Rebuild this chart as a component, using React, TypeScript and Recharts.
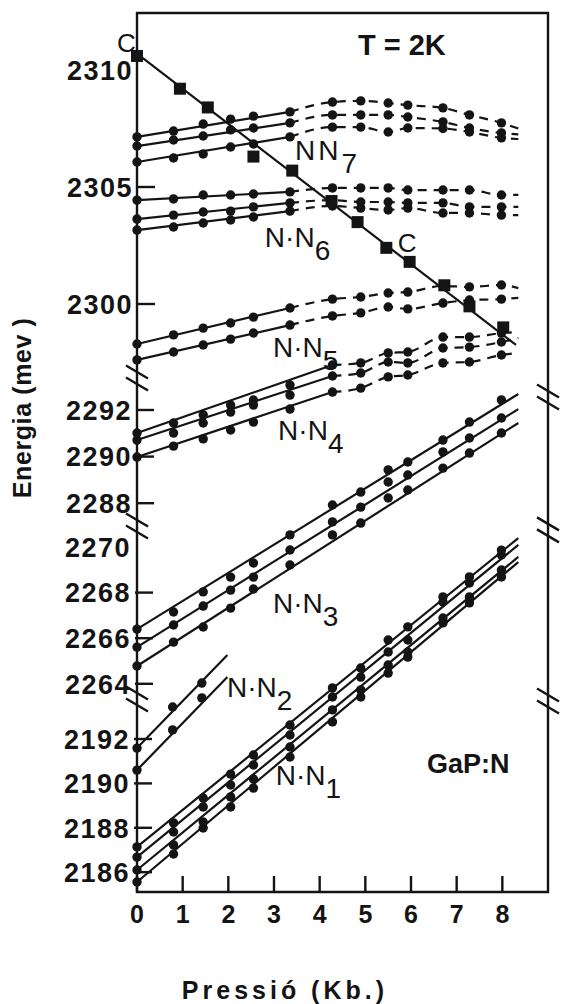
import {
  ComposedChart,
  Line,
  Scatter,
  XAxis,
  YAxis,
  ReferenceArea,
  ReferenceLine,
  ReferenceDot,
} from "recharts";

const FONT = "'Liberation Sans', Arial, Helvetica, sans-serif";
const INK = "#141414";

const CHART_W = 561;
const CHART_H = 1004;
const PLOT_LEFT = 137;
const PLOT_RIGHT = 548;
const PLOT_TOP = 13;
const PLOT_BOTTOM = 892;
const X_MAX = 9;
const PX_PER_KB = (PLOT_RIGHT - PLOT_LEFT) / X_MAX;

// pressures (Kb.) of the measured points, shared by the N-N families
const PRESSURES = [0, 0.8, 1.45, 2.05, 2.55, 3.35, 4.28, 4.9, 5.5, 5.93, 6.7, 7.28, 7.98];
const LINE_END = 8.35;
const X_TICKS = [0, 1, 2, 3, 4, 5, 6, 7, 8];

// tick labels of the four pieces of the broken energy axis (meV)
const TICKS_S1 = [2300, 2305, 2310];
const TICKS_S2 = [2288, 2290, 2292];
const TICKS_S3 = [2264, 2266, 2268, 2270];
const TICKS_S4 = [2186, 2188, 2190, 2192];
const NO_LEFT_TICK = [2310, 2270];
const NO_RIGHT_TICK = [2270];

// line C (squares) and its fitted straight line
const C_P = [0, 0.94, 1.55, 2.55, 3.4, 4.26, 4.83, 5.46, 5.97, 6.73, 7.28, 8.02];
const C_E = [2310.6, 2309.2, 2308.4, 2306.3, 2305.7, 2304.4, 2303.5, 2302.4, 2301.8, 2300.8, 2299.9, 2299.0];
const C_FIT_P = [0, 8.3];
const C_FIT_E = [2310.7, 2298.25];

// N-N7
const NN7_A = [2307.14, 2307.39, 2307.69, 2307.9, 2308.03, 2308.21, 2308.63, 2308.68, 2308.59, 2308.5, 2308.38, 2308.08, 2307.74];
const NN7_B = [2306.75, 2307.01, 2307.18, 2307.44, 2307.52, 2307.74, 2308.08, 2308.08, 2308.08, 2307.99, 2307.78, 2307.52, 2307.31];
const NN7_C = [2306.07, 2306.24, 2306.41, 2306.71, 2306.84, 2307.14, 2307.56, 2307.56, 2307.35, 2307.52, 2307.5, 2307.35, 2307.1];
const NN7_END = [2307.5, 2307.25, 2307.05];

// N-N6
const NN6_A = [2304.44, 2304.49, 2304.66, 2304.66, 2304.7, 2304.79, 2304.96, 2304.96, 2304.96, 2304.87, 2304.87, 2304.87, 2304.66];
const NN6_B = [2303.63, 2303.8, 2303.93, 2303.97, 2304.15, 2304.32, 2304.44, 2304.36, 2304.36, 2304.32, 2304.32, 2304.15, 2304.15];
const NN6_C = [2303.16, 2303.29, 2303.46, 2303.59, 2303.72, 2303.97, 2304.19, 2304.1, 2304.02, 2304.1, 2303.89, 2303.89, 2303.8];
const NN6_END = [2304.66, 2304.15, 2303.8];

// N-N5
const NN5_A = [2298.29, 2298.68, 2298.97, 2299.19, 2299.44, 2299.83, 2300.21, 2300.3, 2300.47, 2300.51, 2300.77, 2300.73, 2300.81];
const NN5_B = [2297.61, 2297.95, 2298.25, 2298.5, 2298.76, 2299.1, 2299.49, 2299.62, 2299.87, 2299.79, 2300.04, 2300.17, 2300.21];
const NN5_END = [2300.68, 2300.26];

// N-N4
const NN4_A = [2291.01, 2291.44, 2291.79, 2292.21, 2292.43, 2293.07, 2293.93, 2294.02, 2294.45, 2294.49, 2295.13, 2295.13, 2295.3];
const NN4_B = [2290.71, 2291.01, 2291.44, 2291.91, 2292.21, 2292.64, 2293.46, 2293.59, 2294.06, 2294.02, 2294.66, 2294.7, 2294.92];
const NN4_C = [2289.98, 2290.45, 2290.76, 2291.14, 2291.48, 2292.04, 2292.77, 2292.94, 2293.42, 2293.5, 2294.02, 2294.06, 2294.36];
const NN4_END = [2295.35, 2295.09, 2294.45];

// N-N3
const NN3_A = [2266.4, 2267.15, 2268.03, 2268.68, 2269.3, 2270.53, 2271.84, 2272.41, 2273.38, 2273.73, 2274.69, 2275.48, 2276.45];
const NN3_B = [2265.61, 2266.58, 2267.41, 2268.11, 2268.68, 2269.87, 2271.1, 2271.75, 2272.85, 2273.16, 2274.17, 2274.78, 2275.66];
const NN3_C = [2264.78, 2265.83, 2266.49, 2267.32, 2268.16, 2269.21, 2270.53, 2271.05, 2272.15, 2272.5, 2273.46, 2274.12, 2275.0];
const NN3_END = [2276.71, 2276.05, 2275.44];

// N-N2 (only three pressures)
const NN2_P = [0, 0.78, 1.42];
const NN2_END_P = 1.98;
const NN2_A = [2191.59, 2193.44, 2194.52];
const NN2_B = [2190.6, 2192.41, 2193.85];
const NN2_END = [2195.78, 2194.79];

// N-N1
const NN1_A = [2187.14, 2188.22, 2189.34, 2190.42, 2191.28, 2192.63, 2194.3, 2195.2, 2196.46, 2197.05, 2198.4, 2199.3, 2200.51];
const NN1_B = [2186.68, 2187.81, 2188.94, 2189.93, 2190.83, 2192.18, 2193.89, 2194.79, 2195.92, 2196.46, 2198.17, 2199.03, 2200.29];
const NN1_C = [2186.1, 2187.23, 2188.26, 2189.39, 2190.2, 2191.64, 2193.31, 2194.21, 2195.33, 2195.92, 2197.45, 2198.4, 2199.61];
const NN1_D = [2185.56, 2186.82, 2187.99, 2188.94, 2189.79, 2191.19, 2192.77, 2193.89, 2194.97, 2195.69, 2197.23, 2198.13, 2199.3];
const NN1_END = [2201.05, 2200.74, 2200.2, 2199.97];

type SegId = "s1" | "s2" | "s3" | "s4";
const SEG_IDS: SegId[] = ["s1", "s2", "s3", "s4"];

// where each piece of the broken axis sits: [energy, pixel row, px per meV]
const SEG_ANCHORS: Record<SegId, [number, number, number]> = {
  s1: [2310, 70, 23.4],
  s2: [2292, 410, 23.3],
  s3: [2270, 547, 22.8],
  s4: [2192, 739, 22.2],
};
const SEG_TICKS: Record<SegId, number[]> = { s1: TICKS_S1, s2: TICKS_S2, s3: TICKS_S3, s4: TICKS_S4 };

const segDomain = (id: SegId): [number, number] => {
  const [e0, y0, k] = SEG_ANCHORS[id];
  return [e0 - (PLOT_BOTTOM - y0) / k, e0 + (y0 - PLOT_TOP) / k];
};
const pxToMeV = (id: SegId, px: number) => px / SEG_ANCHORS[id][2];

interface Family {
  seg: SegId;
  e: number[];
  end: number;
  dashFrom?: number;
  p?: number[];
  endP?: number;
}

const FAMILIES: Family[] = [
  { seg: "s1", e: NN7_A, end: NN7_END[0], dashFrom: 5 },
  { seg: "s1", e: NN7_B, end: NN7_END[1], dashFrom: 5 },
  { seg: "s1", e: NN7_C, end: NN7_END[2], dashFrom: 5 },
  { seg: "s1", e: NN6_A, end: NN6_END[0], dashFrom: 5 },
  { seg: "s1", e: NN6_B, end: NN6_END[1], dashFrom: 5 },
  { seg: "s1", e: NN6_C, end: NN6_END[2], dashFrom: 5 },
  { seg: "s1", e: NN5_A, end: NN5_END[0], dashFrom: 5 },
  { seg: "s1", e: NN5_B, end: NN5_END[1], dashFrom: 5 },
  { seg: "s2", e: NN4_A, end: NN4_END[0], dashFrom: 6 },
  { seg: "s2", e: NN4_B, end: NN4_END[1], dashFrom: 6 },
  { seg: "s2", e: NN4_C, end: NN4_END[2], dashFrom: 6 },
  { seg: "s3", e: NN3_A, end: NN3_END[0] },
  { seg: "s3", e: NN3_B, end: NN3_END[1] },
  { seg: "s3", e: NN3_C, end: NN3_END[2] },
  { seg: "s4", e: NN2_A, end: NN2_END[0], p: NN2_P, endP: NN2_END_P },
  { seg: "s4", e: NN2_B, end: NN2_END[1], p: NN2_P, endP: NN2_END_P },
  { seg: "s4", e: NN1_A, end: NN1_END[0] },
  { seg: "s4", e: NN1_B, end: NN1_END[1] },
  { seg: "s4", e: NN1_C, end: NN1_END[2] },
  { seg: "s4", e: NN1_D, end: NN1_END[3] },
];

type Pt = { p: number; e: number };

// measured dots, the straight solid fit and the dashed continuation
const pieces = (f: Family) => {
  const ps = f.p ?? PRESSURES;
  const dots: Pt[] = ps.map((p, i) => ({ p, e: f.e[i] }));
  const tail: Pt = { p: f.endP ?? LINE_END, e: f.end };
  if (f.dashFrom == null) return { dots, solid: [dots[0], tail], dashed: null as Pt[] | null };
  return { dots, solid: [dots[0], dots[f.dashFrom]], dashed: [...dots.slice(f.dashFrom), tail] };
};

const squares = C_P.map((p, i) => ({ p, e: C_E[i] }));
const cFit: Pt[] = C_FIT_P.map((p, i) => ({ p, e: C_FIT_E[i] }));

// axis breaks: axis piece, frame side, energy at the middle of the mark
const BREAKS: { seg: SegId; x: number; e: number }[] = [
  { seg: "s2", x: 0, e: 2293.37 },
  { seg: "s2", x: X_MAX, e: 2292.56 },
  { seg: "s3", x: 0, e: 2270.92 },
  { seg: "s3", x: X_MAX, e: 2270.75 },
  { seg: "s4", x: 0, e: 2193.8 },
  { seg: "s4", x: X_MAX, e: 2193.71 },
];

interface Note {
  seg: SegId;
  p: number;
  e: number;
  text: string;
  sub?: string;
  size: number;
  bold?: boolean;
  anchor?: "start" | "middle" | "end";
  spacing?: number;
  rotate?: boolean;
}

const NOTES: Note[] = [
  { seg: "s1", p: -0.44, e: 2310.75, text: "C", size: 26 },
  { seg: "s1", p: 5.8, e: 2310.64, text: "T = 2K", size: 29, bold: true, anchor: "middle" },
  { seg: "s1", p: 3.46, e: 2306.15, text: "NN", sub: "7", size: 28, spacing: 3 },
  { seg: "s1", p: 2.8, e: 2302.44, text: "N·N", sub: "6", size: 28 },
  { seg: "s1", p: 5.71, e: 2302.22, text: "C", size: 26 },
  { seg: "s1", p: 2.98, e: 2297.74, text: "N·N", sub: "5", size: 28 },
  { seg: "s2", p: 3.09, e: 2290.71, text: "N·N", sub: "4", size: 28 },
  { seg: "s3", p: 2.98, e: 2267.11, text: "N·N", sub: "3", size: 28 },
  { seg: "s4", p: 1.97, e: 2193.89, text: "N·N", sub: "2", size: 28 },
  { seg: "s4", p: 3.04, e: 2189.93, text: "N·N", sub: "1", size: 28 },
  { seg: "s4", p: 6.35, e: 2190.47, text: "GaP:N", size: 27, bold: true },
  { seg: "s4", p: 3.24, e: 2180.29, text: "Pressió (Kb.)", size: 25, bold: true, anchor: "middle", spacing: 4 },
  { seg: "s2", p: -2.32, e: 2292.09, text: "Energia (mev )", size: 25, bold: true, anchor: "middle", spacing: 0.6, rotate: true },
];

const renderCircle = (props: any) => <circle cx={props.cx} cy={props.cy} r={4.7} fill={INK} />;

const renderSquare = (props: any) => (
  <rect x={props.cx - 6} y={props.cy - 6} width={12} height={12} fill={INK} />
);

const LeftTick = (props: any) => {
  const { x, y, payload } = props;
  const v = payload.value;
  return (
    <g>
      {!NO_LEFT_TICK.includes(v) && (
        <line x1={x + 4} x2={x + 22} y1={y} y2={y} stroke={INK} strokeWidth={2.4} />
      )}
      <text
        x={x}
        y={y}
        dy="0.36em"
        textAnchor="end"
        fontFamily={FONT}
        fontWeight="bold"
        fontSize={27}
        letterSpacing={1.5}
        fill={INK}
      >
        {v}
      </text>
    </g>
  );
};

const RightTick = (props: any) => {
  const { x, y, payload } = props;
  if (NO_RIGHT_TICK.includes(payload.value)) return <g />;
  return <line x1={x - 18} x2={x} y1={y} y2={y} stroke={INK} strokeWidth={2.4} />;
};

const BottomTick = (props: any) => {
  const { x, y, payload } = props;
  return (
    <g>
      <line x1={x} x2={x} y1={y} y2={y - 16} stroke={INK} strokeWidth={2.4} />
      <text x={x} y={y + 31} textAnchor="middle" fontFamily={FONT} fontWeight="bold" fontSize={25} fill={INK}>
        {payload.value}
      </text>
    </g>
  );
};

const noteShape = (n: Note) => (props: any) => {
  const { cx, cy } = props;
  return (
    <text
      x={cx}
      y={cy}
      transform={n.rotate ? `rotate(-90 ${cx} ${cy})` : undefined}
      textAnchor={n.anchor ?? "start"}
      fontFamily={FONT}
      fontWeight={n.bold ? "bold" : "normal"}
      fontSize={n.size}
      letterSpacing={n.spacing ?? 0}
      fill={INK}
    >
      {n.text}
      {n.sub && (
        <tspan dy={13} letterSpacing={0}>
          {n.sub}
        </tspan>
      )}
    </text>
  );
};

export default function App() {
  const [s1Lo, s1Hi] = segDomain("s1");
  const halfW = 11 / PX_PER_KB;

  return (
    <div style={{ position: "absolute", left: 0, top: 0, background: "#fff" }}>
      <ComposedChart
        width={CHART_W}
        height={CHART_H}
        margin={{ top: PLOT_TOP, right: CHART_W - PLOT_RIGHT - 4, bottom: 0, left: PLOT_LEFT - 4 }}
      >
        <XAxis
          dataKey="p"
          type="number"
          domain={[0, X_MAX]}
          ticks={X_TICKS}
          height={CHART_H - PLOT_BOTTOM}
          axisLine={false}
          tickLine={false}
          tickSize={0}
          tickMargin={0}
          tick={<BottomTick />}
        />
        {SEG_IDS.map((id) => (
          <YAxis
            key={`l${id}`}
            yAxisId={id}
            dataKey="e"
            type="number"
            orientation="left"
            width={1}
            domain={segDomain(id)}
            ticks={SEG_TICKS[id]}
            axisLine={false}
            tickLine={false}
            tickSize={0}
            tickMargin={4}
            tick={<LeftTick />}
          />
        ))}
        {SEG_IDS.map((id) => (
          <YAxis
            key={`r${id}`}
            yAxisId={`r${id}`}
            dataKey="e"
            type="number"
            orientation="right"
            width={1}
            domain={segDomain(id)}
            ticks={SEG_TICKS[id]}
            axisLine={false}
            tickLine={false}
            tickSize={0}
            tickMargin={0}
            tick={<RightTick />}
          />
        ))}

        <ReferenceArea
          yAxisId="s1"
          x1={0}
          x2={X_MAX}
          y1={s1Lo}
          y2={s1Hi}
          fill="none"
          fillOpacity={0}
          stroke={INK}
          strokeWidth={2.4}
        />

        {BREAKS.flatMap((b, i) =>
          [-6, 6].map((off) => {
            const ec = b.e - pxToMeV(b.seg, off);
            const dy = pxToMeV(b.seg, 6.5);
            return (
              <ReferenceLine
                key={`b${i}${off}`}
                yAxisId={b.seg}
                ifOverflow="visible"
                segment={[
                  { x: b.x - halfW, y: ec + dy },
                  { x: b.x + halfW, y: ec - dy },
                ]}
                stroke={INK}
                strokeWidth={2.4}
              />
            );
          })
        )}

        <Line
          yAxisId="s1"
          data={cFit}
          dataKey="e"
          type="linear"
          stroke={INK}
          strokeWidth={2.2}
          dot={false}
          activeDot={false}
          isAnimationActive={false}
        />
        <Scatter yAxisId="s1" data={squares} dataKey="e" shape={renderSquare} isAnimationActive={false} />

        {FAMILIES.flatMap((f, i) => {
          const { dots, solid, dashed } = pieces(f);
          const out = [
            <Line
              key={`s${i}`}
              yAxisId={f.seg}
              data={solid}
              dataKey="e"
              type="linear"
              stroke={INK}
              strokeWidth={2.2}
              dot={false}
              activeDot={false}
              isAnimationActive={false}
            />,
            <Scatter
              key={`m${i}`}
              yAxisId={f.seg}
              data={dots}
              dataKey="e"
              shape={renderCircle}
              isAnimationActive={false}
            />,
          ];
          if (dashed)
            out.push(
              <Line
                key={`d${i}`}
                yAxisId={f.seg}
                data={dashed}
                dataKey="e"
                type="monotone"
                stroke={INK}
                strokeWidth={2.2}
                strokeDasharray="9 7"
                dot={false}
                activeDot={false}
                isAnimationActive={false}
              />
            );
          return out;
        })}

        {NOTES.map((n, i) => (
          <ReferenceDot
            key={`n${i}`}
            yAxisId={n.seg}
            x={n.p}
            y={n.e}
            r={0}
            ifOverflow="visible"
            shape={noteShape(n)}
          />
        ))}
      </ComposedChart>
    </div>
  );
}
